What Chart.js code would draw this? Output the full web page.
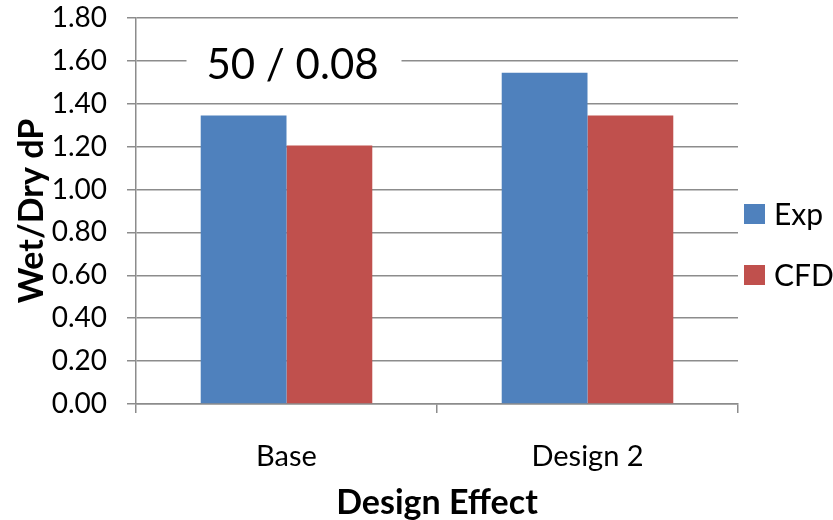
<!DOCTYPE html>
<html>
<head>
<meta charset="utf-8">
<script src="https://cdn.jsdelivr.net/npm/chart.js@4"></script>
<style>
  html, body { margin: 0; padding: 0; background: #fff; }
  #wrap { width: 833px; height: 520px; }
</style>
</head>
<body>
<div id="wrap"><canvas id="chart" width="833" height="520"></canvas></div>
<script>
// chart data
const categories = ['Base', 'Design 2'];
const expValues = [1.345, 1.545];
const cfdValues = [1.205, 1.345];
const seriesNames = ['Exp', 'CFD'];
const noteText = '50 / 0.08';

const gridColor = '#8c8c8c';
const FONT = 'Lato, "Open Sans", sans-serif';

// white box with the "50 / 0.08" note, hides the gridline behind it
const notePlugin = {
  id: 'note',
  afterDatasetsDraw(chart) {
    const ctx = chart.ctx;
    const x = chart.scales.x.getPixelForValue(0) + 6;
    const y = chart.scales.y.getPixelForValue(1.6) + 5;
    ctx.save();
    ctx.fillStyle = '#fff';
    ctx.fillRect(x - 106, y - 26, 215, 54);
    ctx.fillStyle = '#000';
    ctx.font = '42px ' + FONT;
    ctx.textAlign = 'center';
    ctx.textBaseline = 'middle';
    ctx.fillText(noteText, x, y);
    ctx.restore();
  }
};

// legend on the right, Excel style
const legendPlugin = {
  id: 'sideLegend',
  afterDraw(chart) {
    const ctx = chart.ctx;
    const area = chart.chartArea;
    ctx.save();
    ctx.font = '30px ' + FONT;
    ctx.textBaseline = 'middle';
    chart.data.datasets.forEach((ds, i) => {
      const cy = (area.top + area.bottom) / 2 + 3 + i * 61;
      ctx.fillStyle = ds.backgroundColor;
      ctx.fillRect(area.right + 6, cy - 10, 21, 20);
      ctx.fillStyle = '#000';
      ctx.fillText(ds.label, area.right + 36, cy + 1);
    });
    ctx.restore();
  }
};

new Chart(document.getElementById('chart'), {
  type: 'bar',
  data: {
    labels: categories,
    datasets: [
      { label: seriesNames[0], data: expValues, backgroundColor: '#4f81bd' },
      { label: seriesNames[1], data: cfdValues, backgroundColor: '#c0504d' }
    ]
  },
  options: {
    responsive: false,
    animation: false,
    events: [],
    layout: { padding: { top: 18, right: 95, left: 0, bottom: 0 } },
    categoryPercentage: 0.57,
    barPercentage: 1,
    plugins: {
      legend: { display: false },
      tooltip: { enabled: false }
    },
    scales: {
      x: {
        afterFit(scale) { scale.height = 116; },
        grid: {
          display: true,
          drawOnChartArea: false,
          offset: true,
          tickLength: 9,
          color: gridColor,
          lineWidth: 1.5
        },
        border: { color: gridColor, width: 1.5 },
        ticks: {
          color: '#000',
          padding: 26,
          font: { family: FONT, size: 29 }
        },
        title: {
          display: true,
          text: 'Design Effect',
          color: '#000',
          padding: { top: 0, bottom: 0 },
          font: { family: FONT, size: 34, weight: 'bold', lineHeight: 1 }
        }
      },
      y: {
        min: 0,
        max: 1.8,
        afterFit(scale) {
          scale.width = 136;
          scale.paddingTop = 0;
          scale.paddingBottom = 0;
        },
        grid: {
          color: gridColor,
          lineWidth: 1.5,
          tickLength: 9
        },
        border: { color: gridColor, width: 1.5 },
        ticks: {
          stepSize: 0.2,
          color: '#000',
          padding: 20,
          font: { family: FONT, size: 28 },
          callback: v => v.toFixed(2)
        },
        title: {
          display: true,
          text: 'Wet/Dry dP',
          color: '#000',
          padding: { top: 15, bottom: 0 },
          font: { family: FONT, size: 34, weight: 'bold', lineHeight: 1 }
        }
      }
    }
  },
  plugins: [notePlugin, legendPlugin]
});
</script>
</body>
</html>
